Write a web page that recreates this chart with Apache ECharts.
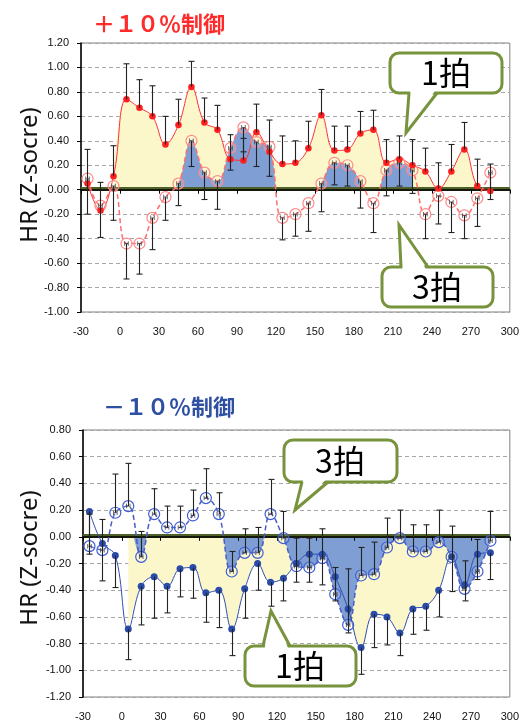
<!DOCTYPE html>
<html><head><meta charset="utf-8">
<script src="https://cdn.jsdelivr.net/npm/echarts@6/dist/echarts.min.js"></script>
<style>html,body{margin:0;padding:0;background:#fff}#c{width:522px;height:724px}</style>
</head><body><div id="c"></div>
<script>
// time (s) of each sample
const times = [-25,-15,-5,5,15,25,35,45,55,65,75,85,95,105,115,125,135,145,155,165,175,185,195,205,215,225,235,245,255,265,275,285];
const xTicks = { min: -30, max: 300, step: 30 };

// +10% control : 1 beat (solid) and 3 beats (dashed)
const plus1 = [0.05,-0.17,0.11,0.74,0.67,0.60,0.37,0.53,0.84,0.55,0.49,0.25,0.24,0.47,0.31,0.21,0.22,0.34,0.61,0.32,0.33,0.46,0.49,0.22,0.25,0.20,0.15,0.01,0.15,0.33,0.03,-0.01];
const plus1ErrTop = [0.33,0.06,0.36,1.03,0.90,0.85,0.60,0.74,1.05,0.75,0.69,0.45,0.42,0.70,0.57,0.44,0.40,0.56,0.82,0.52,0.52,0.64,0.65,0.41,0.44,0.41,0.34,0.22,0.37,0.55,0.25,0.21];
const plus3 = [0.09,-0.13,0.03,-0.44,-0.44,-0.23,-0.06,0.05,0.40,0.14,0.07,0.34,0.51,0.39,0.35,-0.23,-0.20,-0.11,0.05,0.22,0.20,0.07,-0.11,0.16,0.22,0.16,-0.20,-0.05,-0.10,-0.21,-0.07,0.14];
const plus3ErrLow = [-0.20,-0.39,-0.25,-0.73,-0.69,-0.49,-0.25,-0.13,0.19,-0.08,-0.16,0.16,0.31,0.19,0.11,-0.41,-0.38,-0.34,-0.18,0.04,0.03,-0.15,-0.35,-0.05,0.03,-0.03,-0.40,-0.28,-0.35,-0.40,-0.30,-0.08];

// -10% control : 1 beat (solid) and 3 beats (dashed)
const minus1 = [0.19,-0.05,-0.14,-0.69,-0.37,-0.30,-0.37,-0.24,-0.23,-0.42,-0.40,-0.69,-0.39,-0.20,-0.34,-0.31,-0.20,-0.13,-0.13,-0.30,-0.54,-0.83,-0.58,-0.60,-0.72,-0.54,-0.52,-0.40,-0.15,-0.36,-0.13,-0.12];
const minus1ErrLow = [-0.13,-0.33,-0.38,-0.92,-0.66,-0.61,-0.57,-0.45,-0.46,-0.64,-0.68,-0.89,-0.61,-0.40,-0.52,-0.48,-0.34,-0.34,-0.36,-0.48,-0.72,-1.03,-0.83,-0.81,-0.89,-0.73,-0.70,-0.60,-0.41,-0.48,-0.32,-0.32];
const minus3 = [-0.07,-0.10,0.18,0.23,-0.15,0.17,0.07,0.07,0.16,0.29,0.17,-0.26,-0.12,-0.12,0.17,-0.01,-0.22,-0.23,-0.16,-0.43,-0.66,-0.29,-0.28,-0.08,-0.01,-0.11,-0.11,-0.04,-0.15,-0.39,-0.26,-0.03];
const minus3ErrHigh = [0.17,0.13,0.47,0.55,0.04,0.36,0.23,0.23,0.35,0.51,0.33,-0.11,0.06,0.07,0.43,0.19,-0.01,-0.01,0.06,-0.23,-0.24,-0.08,-0.04,0.14,0.20,0.09,0.09,0.20,0.08,-0.18,-0.02,0.19];

const topY = { min: -1.0, max: 1.2, step: 0.2 };
const botY = { min: -1.2, max: 0.8, step: 0.2 };

// fill ranges (index ranges of samples that are shaded)
const plus1FillFrom = 2, plus3FillFrom = 6, plus3FillTo = 26;
const minus1FillFrom = 3, minus3FillFrom = 3;

const YELLOW = '#FBF7CB', BLUE = '#7F9ED3', BAND = '#4F6128';
const SMOOTH = 0.4;
const FONT = '"Liberation Sans", Arial, sans-serif';
const pts = (xs, ys) => xs.map((x, i) => [x, ys[i]]);

const chart = echarts.init(document.getElementById('c'));
const series = [];
const vmaps = [];

function addFill(xi, yi, xs, ys, color, positive, extra) {
  series.push(Object.assign({
    type: 'line', xAxisIndex: xi, yAxisIndex: yi, z: 1, silent: true,
    data: pts(xs, ys), smooth: SMOOTH, symbol: 'none',
    lineStyle: { width: 0, opacity: 0 }, areaStyle: { opacity: 1 }
  }, extra || {}));
  vmaps.push({
    type: 'piecewise', show: false, seriesIndex: series.length - 1, dimension: 1,
    pieces: [positive ? { gt: 0, lte: 10, color: color } : { gte: -10, lt: 0, color: color }],
    outOfRange: { color: 'rgba(255,255,255,0)' }
  });
}
function bandLine() {
  return { silent: true, symbol: ['none', 'none'], z: 2, label: { show: false },
    lineStyle: { color: BAND, width: 4, type: 'solid', opacity: 1 },
    emphasis: { disabled: true }, data: [{ yAxis: 0.014 }] };
}
function addLine(xi, yi, ys, color, dashed, markerColor, open) {
  series.push({
    type: 'line', xAxisIndex: xi, yAxisIndex: yi, z: 6, silent: true,
    data: pts(times, ys), smooth: SMOOTH,
    symbol: 'circle', symbolSize: open ? 11 : (markerColor === '#FF1E1E' ? 6.5 : 7),
    lineStyle: { color: color, width: dashed ? 1.5 : 1, type: dashed ? [5, 3] : 'solid' },
    itemStyle: open ? { color: 'rgba(255,255,255,0.15)', borderColor: markerColor, borderWidth: 1.2 }
                    : { color: markerColor, borderWidth: 0 }
  });
  if (open) {
    series.push({
      type: 'scatter', xAxisIndex: xi, yAxisIndex: yi, z: 7, silent: true,
      data: pts(times, ys), symbolSize: 4.5,
      symbol: 'path://M0,0h2v10h-2z M8,0h2v10h-2z M0,4h10v2h-10z',
      itemStyle: { color: '#333' }
    });
  }
}
function addErr(xi, yi, means, ends) {
  series.push({
    type: 'custom', xAxisIndex: xi, yAxisIndex: yi, z: 7, silent: true,
    data: times.map((t, i) => [t, means[i], ends[i]]),
    encode: { x: 0, y: [1, 2] },
    renderItem: function (params, api) {
      const p0 = api.coord([api.value(0), api.value(1)]);
      const p1 = api.coord([api.value(0), api.value(2)]);
      const x = Math.round(p0[0]) + 0.5;
      const st = { stroke: '#222', lineWidth: 1.1 };
      return { type: 'group', children: [
        { type: 'line', shape: { x1: x, y1: p0[1], x2: x, y2: p1[1] }, style: st },
        { type: 'line', shape: { x1: x - 3, y1: p1[1], x2: x + 3, y2: p1[1] }, style: st }
      ] };
    }
  });
}

// top chart
addFill(0, 0, times.slice(plus1FillFrom), plus1.slice(plus1FillFrom), YELLOW, true, { markLine: bandLine() });
addFill(0, 0, times.slice(plus3FillFrom, plus3FillTo), plus3.slice(plus3FillFrom, plus3FillTo), BLUE, true);
addLine(0, 0, plus3, '#FF6E6E', true, '#FF8A8A', true);
addLine(0, 0, plus1, '#FF3030', false, '#FF1E1E', false);
addErr(0, 0, plus1, plus1ErrTop);
addErr(0, 0, plus3, plus3ErrLow);

// bottom chart
addFill(2, 1, times.slice(minus1FillFrom), minus1.slice(minus1FillFrom), YELLOW, false, { markLine: bandLine() });
addFill(2, 1, times.slice(minus3FillFrom), minus3.slice(minus3FillFrom), BLUE, false);
addLine(2, 1, minus3, '#4A5BC4', true, '#3F5FD0', true);
addLine(2, 1, minus1, '#2F4FAF', false, '#2B4BA8', false);
addErr(2, 1, minus1, minus1ErrLow);
addErr(2, 1, minus3, minus3ErrHigh);

const fmt = v => (Math.abs(v) < 1e-9 ? 0 : v).toFixed(2);
function xLabelAxis(gi) {
  return { type: 'value', gridIndex: gi, position: 'bottom', min: xTicks.min, max: xTicks.max, interval: xTicks.step,
    axisLine: { show: false, onZero: false }, axisTick: { show: false }, splitLine: { show: false },
    axisLabel: { margin: 14, fontSize: 11, fontFamily: FONT, color: '#111' } };
}
function xZeroAxis(gi) {
  return { type: 'value', gridIndex: gi, position: 'bottom', min: xTicks.min, max: xTicks.max, interval: xTicks.step, z: 3,
    axisLine: { show: true, onZero: true, lineStyle: { color: '#000', width: 1.5 } },
    axisTick: { show: true, length: 4, lineStyle: { color: '#000', width: 1 } },
    axisLabel: { show: false }, splitLine: { show: false } };
}
function yAxis(gi, r) {
  return { type: 'value', gridIndex: gi, min: r.min, max: r.max, interval: r.step,
    axisLine: { show: true, onZero: false, lineStyle: { color: '#000', width: 1.5 } },
    axisTick: { show: true, length: 4, lineStyle: { color: '#000' } },
    axisLabel: { margin: 12, fontSize: 11, fontFamily: FONT, color: '#111', formatter: fmt },
    splitLine: { show: true, lineStyle: { color: '#a6a6a6', type: [4, 3], width: 1 } } };
}

function callout(box, tail, label, textPos) {
  const inner = tail.bottom ? -3 : 3;
  const by = tail.bottom ? box.y + box.h : box.y;
  return [
    { type: 'rect', z: 100, shape: { x: box.x, y: box.y, width: box.w, height: box.h, r: 9 },
      style: { fill: '#fff', stroke: '#77933C', lineWidth: 3 } },
    { type: 'polygon', z: 101, shape: { points: [[tail.l + 1.5, by + inner], [tail.tx, tail.ty], [tail.r - 1.5, by + inner]] },
      style: { fill: '#fff' } },
    { type: 'polyline', z: 102, shape: { points: [[tail.l, by], [tail.tx, tail.ty], [tail.r, by]] },
      style: { stroke: '#77933C', lineWidth: 3, fill: null, lineJoin: 'miter' } },
    { type: 'text', z: 103, x: textPos[0], y: textPos[1],
      style: { text: label, font: '32px "Noto Sans CJK JP"', fill: '#000', align: 'center', verticalAlign: 'middle' } }
  ];
}

const graphics = [
  { type: 'text', z: 100, x: 93, y: 24, style: { text: '＋１０％制御', font: 'bold 22px "Noto Sans CJK JP"', fill: '#FF2B2B', align: 'left', verticalAlign: 'middle' } },
  { type: 'text', z: 100, x: 103, y: 407, style: { text: '－１０％制御', font: 'bold 22px "Noto Sans CJK JP"', fill: '#2E50A2', align: 'left', verticalAlign: 'middle' } },
  { type: 'text', z: 100, x: 30, y: 175, rotation: Math.PI / 2, style: { text: 'HR (Z-socre)', font: '24px "Noto Sans"', fill: '#111', align: 'center', verticalAlign: 'middle' } },
  { type: 'text', z: 100, x: 30, y: 558, rotation: Math.PI / 2, style: { text: 'HR (Z-socre)', font: '24px "Noto Sans"', fill: '#111', align: 'center', verticalAlign: 'middle' } }
].concat(
  callout({ x: 390, y: 53, w: 112, h: 40 }, { bottom: true, l: 409, r: 437, tx: 406, ty: 133 }, '1拍', [446, 73]),
  callout({ x: 382, y: 267, w: 111, h: 40 }, { bottom: false, l: 401, r: 428, tx: 399, ty: 225 }, '3拍', [437, 287]),
  callout({ x: 284, y: 440, w: 113, h: 42 }, { bottom: true, l: 302, r: 328, tx: 295, ty: 510 }, '3拍', [340, 461]),
  callout({ x: 245, y: 646, w: 111, h: 40 }, { bottom: false, l: 263, r: 290, tx: 271, ty: 611 }, '1拍', [300, 666])
);

chart.setOption({
  animation: false,
  backgroundColor: '#fff',
  grid: [
    { left: 81, right: 9, top: 43, height: 269, show: true, borderColor: '#808080', borderWidth: 1, backgroundColor: 'rgba(0,0,0,0)' },
    { left: 83, right: 9, top: 430, height: 267, show: true, borderColor: '#808080', borderWidth: 1, backgroundColor: 'rgba(0,0,0,0)' }
  ],
  xAxis: [xLabelAxis(0), xZeroAxis(0), xLabelAxis(1), xZeroAxis(1)],
  yAxis: [yAxis(0, topY), yAxis(1, botY)],
  visualMap: vmaps,
  series: series,
  graphic: graphics
});
</script></body></html>
